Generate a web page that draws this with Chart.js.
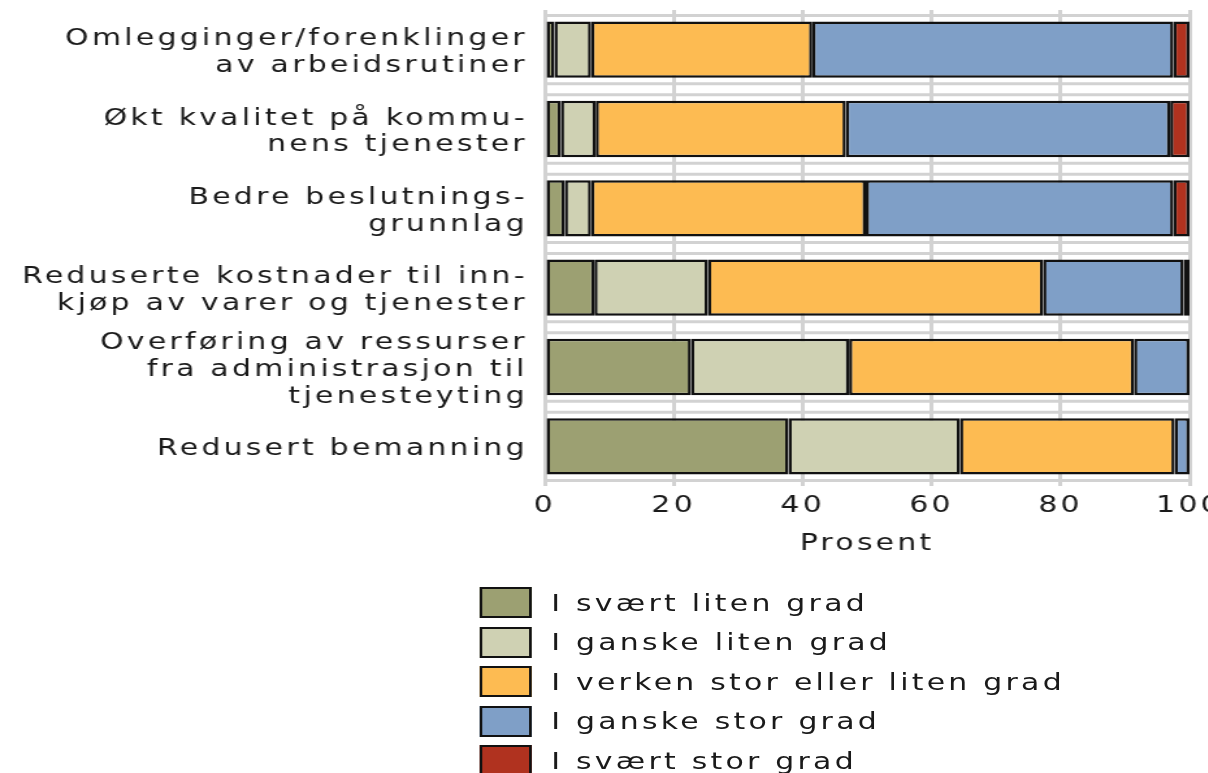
<!DOCTYPE html>
<html>
<head>
<meta charset="utf-8">
<script src="https://cdn.jsdelivr.net/npm/chart.js@4.4.1/dist/chart.umd.min.js"></script>
<style>
  html, body { margin: 0; padding: 0; background: #fff; overflow: hidden; }
  #wrap { transform: scaleX(1.3); transform-origin: 0 0; width: 950px; }
  #legend { margin: 22px 0 0 369px; font-family: "DejaVu Sans", sans-serif; font-size: 23px; letter-spacing: 2.5px; color: #1a1a1a; }
  #legend ul { list-style: none; margin: 0; padding: 0; }
  #legend li { display: flex; align-items: center; height: 39.5px; white-space: nowrap; }
  #legend .box { width: 36px; height: 27px; border: 2px solid #111; margin-right: 15px; }
</style>
</head>
<body>
<div id="wrap">
  <canvas id="chart" width="950" height="561"></canvas>
  <div id="legend"><ul></ul></div>
</div>
<script>
// Données (pourcentages)
const categories = [
  ['Omlegginger/forenklinger', 'av arbeidsrutiner'],
  ['Økt kvalitet på kommu-', 'nens tjenester'],
  ['Bedre beslutnings-', 'grunnlag'],
  ['Reduserte kostnader til inn-', 'kjøp av varer og tjenester'],
  ['Overføring av ressurser', 'fra administrasjon til', 'tjenesteyting'],
  'Redusert bemanning'
];
const seriesNames = ['I svært liten grad', 'I ganske liten grad', 'I verken stor eller liten grad', 'I ganske stor grad', 'I svært stor grad'];
const sværtLiten = [1.5, 2.5, 3.1, 7.7, 22.7, 37.8];
const ganskeLiten = [5.7, 5.4, 4.1, 17.6, 24.5, 26.6];
const verken = [34.3, 38.8, 42.6, 52.0, 44.2, 33.3];
const ganskeStor = [56.0, 50.3, 47.7, 21.8, 8.6, 2.3];
const sværtStor = [2.5, 3.0, 2.5, 0.9, 0, 0];
const xTicks = [0, 20, 40, 60, 80, 100];
const colors = ['#9ca072', '#cfd1b3', '#fdbb52', '#7f9fc7', '#b0321f'];

const font = { family: '"DejaVu Sans", sans-serif', size: 23, lineHeight: 1.17 };
const textColor = '#1a1a1a';

// Espacement des lettres sur le canvas
const spacing = {
  id: 'spacing',
  beforeUpdate(chart) { chart.ctx.letterSpacing = '2.5px'; },
  beforeDraw(chart) { chart.ctx.letterSpacing = '2.5px'; }
};

// Lignes grises au-dessus et au-dessous de chaque barre
const gapLines = {
  id: 'gapLines',
  beforeDatasetsDraw(chart) {
    const { ctx, chartArea } = chart;
    ctx.save();
    ctx.strokeStyle = '#d2d2d2';
    ctx.lineWidth = 3;
    chart.getDatasetMeta(0).data.forEach(bar => {
      const h = bar.height / 2 + 6;
      [bar.y - h, bar.y + h].forEach(y => {
        ctx.beginPath();
        ctx.moveTo(chartArea.left, y);
        ctx.lineTo(chartArea.right, y);
        ctx.stroke();
      });
    });
    ctx.restore();
  }
};

// Légende HTML (une entrée par ligne)
const htmlLegend = {
  id: 'htmlLegend',
  afterUpdate(chart) {
    const ul = document.querySelector('#legend ul');
    ul.innerHTML = '';
    chart.options.plugins.legend.labels.generateLabels(chart).forEach(item => {
      const li = document.createElement('li');
      const box = document.createElement('span');
      box.className = 'box';
      box.style.background = item.fillStyle;
      const txt = document.createElement('span');
      txt.textContent = item.text;
      li.append(box, txt);
      ul.appendChild(li);
    });
  }
};

const values = [sværtLiten, ganskeLiten, verken, ganskeStor, sværtStor];

new Chart(document.getElementById('chart').getContext('2d'), {
  type: 'bar',
  data: {
    labels: categories,
    datasets: values.map((data, i) => ({
      label: seriesNames[i],
      data: data,
      backgroundColor: colors[i],
      borderColor: '#111',
      borderWidth: 2.5,
      borderSkipped: false,
      categoryPercentage: 1,
      barPercentage: 0.71
    }))
  },
  options: {
    indexAxis: 'y',
    responsive: false,
    animation: false,
    layout: { padding: { top: 10, right: 35, bottom: 0, left: 0 } },
    plugins: {
      legend: { display: false },
      tooltip: { enabled: false }
    },
    scales: {
      x: {
        stacked: true,
        min: 0,
        max: 100,
        afterBuildTicks: scale => { scale.ticks = xTicks.map(v => ({ value: v })); },
        ticks: { padding: 7, color: textColor, font: font },
        grid: { color: '#d2d2d2', lineWidth: 3, drawTicks: false },
        border: { display: false },
        title: { display: true, text: 'Prosent', color: textColor, font: font, padding: { top: 4, bottom: 4 } },
        afterFit: scale => { scale.height = 75; scale.paddingLeft = 0; scale.paddingRight = 0; }
      },
      y: {
        stacked: true,
        ticks: { padding: 5, color: textColor, font: font, autoSkip: false, labelOffset: 3 },
        grid: { display: false },
        border: { display: false },
        afterFit: scale => { scale.width = 419; scale.paddingTop = 0; scale.paddingBottom = 0; }
      }
    }
  },
  plugins: [spacing, gapLines, htmlLegend]
});
</script>
</body>
</html>
